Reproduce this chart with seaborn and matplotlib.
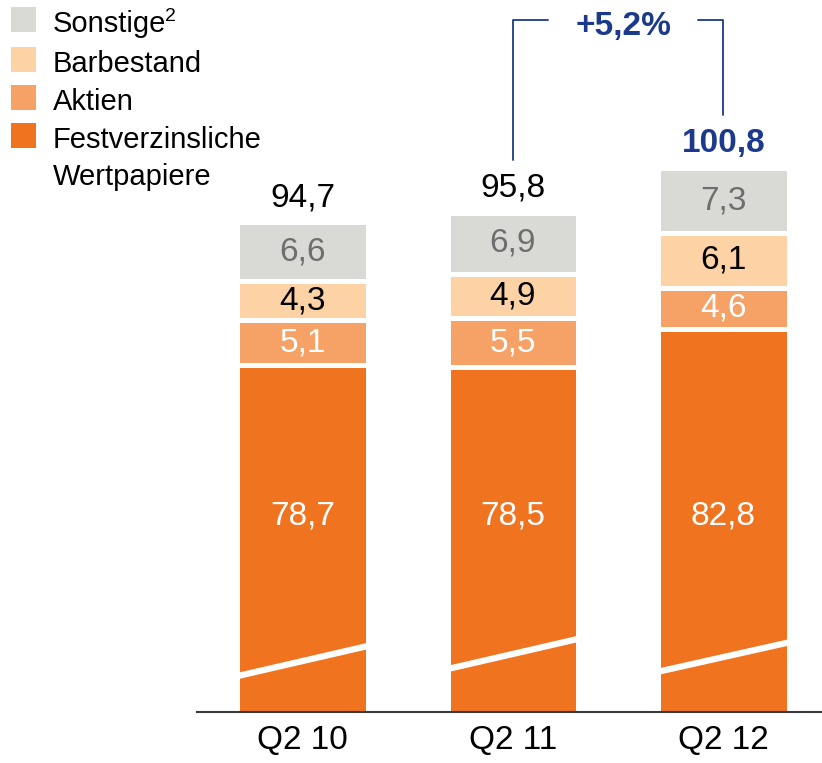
import numpy as np
import pandas as pd
import matplotlib.pyplot as plt
import seaborn as sns
from matplotlib.patches import Rectangle

# data
quarters = ["Q2 10", "Q2 11", "Q2 12"]
festverzinsliche = [78.7, 78.5, 82.8]
aktien = [5.1, 5.5, 4.6]
barbestand = [4.3, 4.9, 6.1]
sonstige = [6.6, 6.9, 7.3]
totals = [94.7, 95.8, 100.8]
growth_label = "+5,2%"

series_names = ["Festverzinsliche\nWertpapiere", "Aktien", "Barbestand", "Sonstige"]
series_notes = ["", "", "", "2"]
series_colors = ["#F07320", "#F6A166", "#FDD2A4", "#D9D9D5"]
label_colors = ["white", "white", "black", "#6E6E6E"]
navy = "#1C3A8C"

# white axis-break band per bar (data units at left / right bar edge)
break_left = [43.8, 44.6, 44.3]
break_right = [47.4, 48.2, 47.8]

W, H = 822, 763
BAR_W = 0.622
FEST_LABEL_Y = 61.8


def fmt(v):
    return f"{v:.1f}".replace(".", ",")


sns.set_theme(style="white")
plt.rcParams["font.family"] = ["Liberation Sans", "DejaVu Sans"]

fig = plt.figure(figsize=(W / 100, H / 100), dpi=100)
ax = fig.add_axes([197 / W, 51 / H, 625 / W, 712 / H])

segments = [festverzinsliche, aktien, barbestand, sonstige]
stack = np.cumsum(np.array(segments), axis=0)

# draw cumulative bars from the top down so the lower ones sit in front
for k in range(len(segments) - 1, -1, -1):
    df = pd.DataFrame({"quarter": quarters, "value": stack[k]})
    sns.barplot(data=df, x="quarter", y="value", color=series_colors[k],
                saturation=1, width=BAR_W, edgecolor="white", linewidth=3.6,
                errorbar=None, ax=ax)

ax.set_xlim(-0.501, 2.468)
ax.set_ylim(39.9, 119.6)

# axis break bands
for i in range(len(quarters)):
    x0, x1 = i - BAR_W / 2 - 0.02, i + BAR_W / 2 + 0.02
    ax.fill([x0, x1, x1, x0], [break_left[i] - 0.36, break_right[i] - 0.36,
                               break_right[i] + 0.36, break_left[i] + 0.36],
            color="white", zorder=5, lw=0)

# segment labels
for k, seg in enumerate(segments):
    for i, v in enumerate(seg):
        bottom = stack[k][i] - v
        y = FEST_LABEL_Y if k == 0 else bottom + v / 2
        ax.text(i, y, fmt(v), ha="center", va="center", fontsize=24,
                color=label_colors[k], zorder=6)

# totals
for i, t in enumerate(totals):
    last = i == len(totals) - 1
    ax.annotate(fmt(t), (i, t), xytext=(0, 11.5), textcoords="offset points",
                ha="center", va="baseline", fontsize=24,
                fontweight="bold" if last else "normal",
                color=navy if last else "black")

# growth bracket
top_y = 117.4
ax.plot([1, 1, 1.166], [totals[1] + 5.9, top_y, top_y], color=navy, lw=1.3,
        clip_on=False)
ax.plot([1.881, 2, 2], [top_y, top_y, totals[2] + 5.9], color=navy, lw=1.3,
        clip_on=False)
ax.text(1.527, 115.7, growth_label, ha="center", va="baseline", fontsize=24,
        fontweight="bold", color=navy)

# axes styling
sns.despine(ax=ax, left=True)
ax.spines["bottom"].set_color("#3A3A3A")
ax.spines["bottom"].set_linewidth(1.5)
ax.spines["bottom"].set_zorder(7)
ax.set_yticks([])
ax.set_xlabel("")
ax.set_ylabel("")
ax.tick_params(axis="x", length=0, pad=9.4, labelsize=24, colors="black")

# legend, drawn top to bottom
renderer = fig.canvas.get_renderer()
legend_baselines = [32, 72, 110, 148]
for row, k in enumerate(range(len(segments) - 1, -1, -1)):
    base = legend_baselines[row]
    fig.patches.append(Rectangle((11 / W, 1 - base / H), 25 / W, 25 / H,
                                 transform=fig.transFigure,
                                 facecolor=series_colors[k], edgecolor="none"))
    for j, line in enumerate(series_names[k].split("\n")):
        t = fig.text(53 / W, 1 - (base + 37 * j) / H, line, ha="left",
                     va="baseline", fontsize=21, color="black")
    if series_notes[k]:
        x_end = t.get_window_extent(renderer).x1
        fig.text((x_end - 1) / W, 1 - (base - 11) / H, series_notes[k],
                 ha="left", va="baseline", fontsize=14, color="black")

fig.savefig("out.png", dpi=100)
